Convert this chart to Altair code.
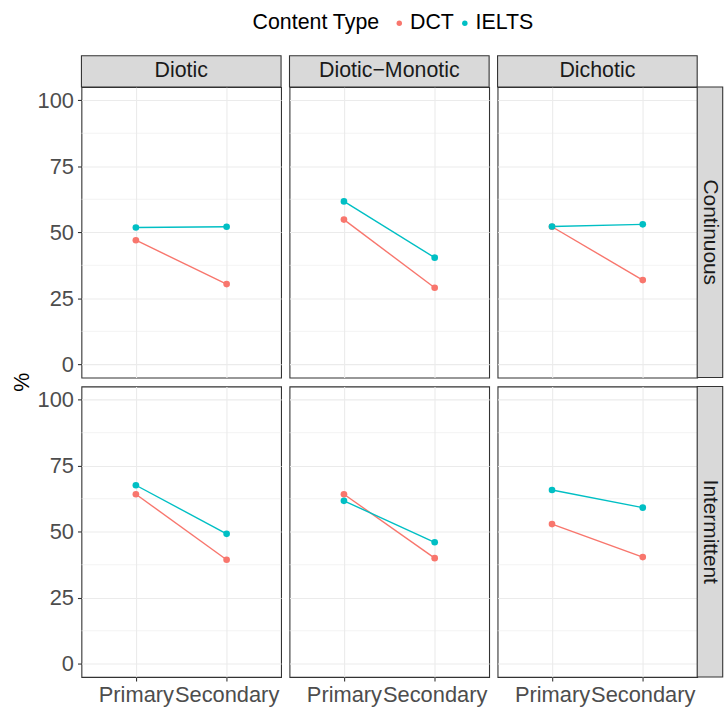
import altair as alt
import pandas as pd

# Facet levels
rows = ["Continuous", "Intermittent"]
cols = ["Diotic", "Diotic\u2212Monotic", "Dichotic"]
levels = ["Primary", "Secondary"]
content_types = ["DCT", "IELTS"]
palette = ["#F8766D", "#00BFC4"]

# Percent correct, one [Primary, Secondary] pair per column (Diotic, Diotic-Monotic, Dichotic)
dct_continuous = [[47.0, 30.4], [54.8, 29.0], [52.1, 31.9]]
ielts_continuous = [[51.8, 52.1], [61.7, 40.4], [52.2, 53.0]]
dct_intermittent = [[64.2, 39.4], [64.2, 40.0], [52.9, 40.4]]
ielts_intermittent = [[67.6, 49.2], [61.7, 46.0], [65.8, 59.1]]

major_ticks = [0, 25, 50, 75, 100]
minor_ticks = [12.5, 37.5, 62.5, 87.5]

series = {
    ("Continuous", "DCT"): dct_continuous,
    ("Continuous", "IELTS"): ielts_continuous,
    ("Intermittent", "DCT"): dct_intermittent,
    ("Intermittent", "IELTS"): ielts_intermittent,
}

records = []
for (row, ctype), table in series.items():
    for col, pair in zip(cols, table):
        for level, value in zip(levels, pair):
            records.append({"Row": row, "Col": col, "Level": level,
                            "Content Type": ctype, "Pct": value})
df = pd.DataFrame(records)
minor_df = pd.DataFrame({"v": minor_ticks})

FONT = "Liberation Sans"
W, H = 201, 292.5
STRIP = 31.5
RSTRIP = 22.7
GRID = "#EBEBEB"
DARK = "#333333"


def panel(r, c):
    left = c == 0
    bottom = r == 1
    sub = df[(df["Row"] == rows[r]) & (df["Col"] == cols[c])]

    y_kwargs = dict(
        values=major_ticks, labels=left, ticks=left, domain=False,
        grid=True, gridColor=GRID, gridWidth=1.1,
        labelFontSize=22, labelColor="#4D4D4D", labelPadding=4,
        tickColor=DARK, tickSize=4, tickWidth=1.1,
    )
    if left and r == 0:
        y_axis = alt.Axis(
            title="%", titleFontSize=21.5, titleFontWeight="normal",
            titleColor="black", titleX=-53, titleY=296.7,
            titleBaseline="alphabetic", **y_kwargs,
        )
    else:
        y_axis = alt.Axis(title=None, **y_kwargs)
    x_axis = alt.Axis(
        labels=bottom, ticks=bottom, domain=False, grid=True,
        gridColor=GRID, gridWidth=1.1, labelAngle=0, labelFontSize=22,
        labelColor="#4D4D4D", labelPadding=4, labelOverlap=False,
        tickColor=DARK, tickSize=4, tickWidth=1.1, title=None,
    )
    yscale = alt.Scale(domain=[-5, 105], nice=False, zero=False)
    xscale = alt.Scale(type="point", padding=0.6, domain=levels)
    color = alt.Color(
        "Content Type:N",
        scale=alt.Scale(domain=content_types, range=palette),
        legend=alt.Legend(
            orient="none", legendX=172.3, legendY=-75.3,
            direction="horizontal", titleOrient="left", title="Content Type",
            titleFontSize=21.5, titleFontWeight="normal", titleColor="black",
            labelFontSize=21.5, labelColor="black", symbolType="circle",
            symbolSize=30, symbolStrokeWidth=0, labelOffset=0,
            columnPadding=0, titlePadding=9,
        ),
    )

    # thin minor grid lines between the labelled ticks
    minor = alt.Chart(minor_df).mark_rule(color=GRID, strokeWidth=0.6).encode(
        y=alt.Y("v:Q", scale=yscale, axis=y_axis)
    )
    base = alt.Chart(sub).encode(
        x=alt.X("Level:N", scale=xscale, axis=x_axis, sort=levels),
        y=alt.Y("Pct:Q", scale=yscale, axis=y_axis),
        color=color,
    )
    lines = base.mark_line(strokeWidth=1.4)
    points = base.mark_circle(size=45, opacity=1)
    layers = [minor, lines, points]

    if r == 0:
        top_df = pd.DataFrame({"label": [cols[c]]})
        layers.append(
            alt.Chart(top_df).mark_rect(fill="#D9D9D9", stroke=DARK, strokeWidth=1.1).encode(
                x=alt.value(0), x2=alt.value(W), y=alt.value(-STRIP), y2=alt.value(0)
            )
        )
        layers.append(
            alt.Chart(top_df).mark_text(fontSize=21.5, color="#1A1A1A", baseline="middle",
                                        font=FONT).encode(
                x=alt.value(W / 2), y=alt.value(-STRIP / 2), text="label:N"
            )
        )
    if c == 2:
        side_df = pd.DataFrame({"label": [rows[r]]})
        layers.append(
            alt.Chart(side_df).mark_rect(fill="#D9D9D9", stroke=DARK, strokeWidth=1.1).encode(
                x=alt.value(W), x2=alt.value(W + RSTRIP + 3), y=alt.value(0), y2=alt.value(H)
            )
        )
        layers.append(
            alt.Chart(side_df).mark_text(fontSize=21, color="#1A1A1A", baseline="alphabetic",
                                         angle=90, font=FONT).encode(
                x=alt.value(W + 6.8), y=alt.value(H / 2), text="label:N"
            )
        )

    return alt.layer(*layers).properties(width=W, height=H)


panels = [panel(r, c) for r in range(2) for c in range(3)]
chart = alt.concat(*panels, columns=3, spacing=8.5, bounds="flush").properties(
    padding={"left": 11, "top": 9.2, "right": 0, "bottom": 0}
).configure(font=FONT).configure_view(stroke=DARK, strokeWidth=1.1)

chart.save("out.html", embed_options={"renderer": "svg", "actions": False})
